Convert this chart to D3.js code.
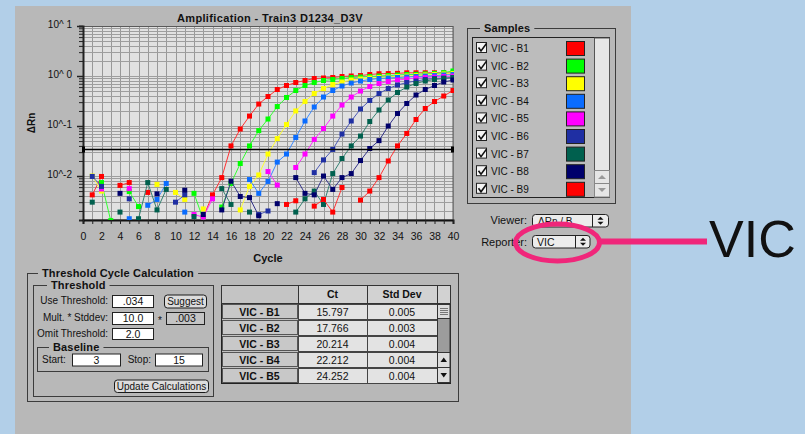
<!DOCTYPE html>
<html><head><meta charset="utf-8">
<script src="https://cdn.jsdelivr.net/npm/d3@7"></script>
<style>
body{margin:0;background:#b2cfe8;}
svg{display:block}
text{font-family:"Liberation Sans",Arial,sans-serif;fill:#111;}
</style></head>
<body><svg id="c" width="805" height="434"></svg>
<script>
// ---------------- DATA ----------------
const cycles = [1,2,3,4,5,6,7,8,9,10,11,12,13,14,15,16,17,18,19,20,21,22,23,24,25,26,27,28,29,30,31,32,33,34,35,36,37,38,39,40];
const sampleNames = ["VIC - B1","VIC - B2","VIC - B3","VIC - B4","VIC - B5","VIC - B6","VIC - B7","VIC - B8","VIC - B9"];
const sampleColors = ["#ff0000","#00ff00","#ffff00","#0a6cff","#ff00ff","#1f2fa3","#00604e","#00006b","#ff0000"];
const B1 = [0.0042,0.0098,null,0.0065,0.0074,null,0.0047,null,null,null,null,null,0.0015,0.0042,0.0093,0.040,0.087,0.158,0.275,0.389,0.537,0.646,0.741,0.813,0.891,0.912,0.933,0.977,1.00,1.02,1.07,1.11,1.12,1.13,1.16,1.16,1.16,1.16,1.15,1.15];
const B2 = [null,0.0074,0.00128,null,0.0049,0.00245,null,null,null,null,null,0.0045,0.00135,null,0.0024,0.0071,0.0178,0.040,0.081,0.138,0.245,0.372,0.513,0.646,0.741,0.813,0.851,0.891,0.933,0.955,0.977,1.00,1.02,1.05,1.07,1.08,1.10,1.12,1.17,1.26];
const B3 = [0.0100,0.0050,null,null,null,null,null,0.0068,null,0.0047,0.0034,null,0.0022,null,null,null,0.0021,0.0062,0.0105,0.0275,0.056,0.107,0.200,0.310,0.447,0.562,0.676,0.759,0.832,0.871,0.912,0.933,0.955,0.977,1.00,1.02,1.05,1.07,1.10,1.12];
const B4 = [null,null,null,null,0.0014,null,0.0026,0.0034,0.0071,null,0.0019,null,null,null,null,null,null,0.0085,0.0045,0.0078,0.019,0.0275,0.059,0.126,0.240,0.380,0.513,0.631,0.724,0.794,0.851,0.891,0.912,0.933,0.955,0.977,1.00,1.02,1.05,1.07];
const B5 = [null,0.0055,null,null,0.0056,null,null,null,null,null,null,0.0017,0.0015,0.0035,null,null,null,null,null,0.0123,0.0066,null,0.0148,0.0275,0.054,0.089,0.158,0.263,0.380,0.500,0.617,0.708,0.776,0.832,0.871,0.912,0.933,0.955,0.977,1.00];
const B6 = [0.0098,0.0062,null,null,0.0035,null,null,null,null,0.0030,0.0042,null,null,null,null,null,null,null,0.0017,0.0020,null,null,null,null,0.0117,0.021,0.034,0.069,0.126,0.219,0.324,0.447,0.562,0.661,0.741,0.794,0.851,0.891,0.912,0.933];
const B7 = [0.0030,null,null,0.0019,null,0.0014,0.0074,0.0021,0.0054,null,null,0.00155,null,null,0.0056,0.0027,null,0.0019,null,null,null,null,0.0019,0.0035,0.0050,0.0027,0.0112,0.0224,0.040,0.063,0.123,0.209,0.331,0.468,0.603,0.708,0.794,0.851,0.891,0.933];
const B8 = [null,null,null,0.0045,null,null,null,0.0044,null,null,0.0052,null,0.0017,null,0.0021,0.0079,0.0039,0.0037,0.0016,null,0.0028,null,0.0093,0.0045,0.0042,0.0100,0.0054,0.0093,0.0112,0.0204,0.0355,0.051,0.100,0.178,0.282,0.417,0.537,0.646,0.759,0.832];
const B9 = [null,null,null,null,null,null,null,null,null,null,null,null,null,null,null,null,null,null,null,null,null,0.0027,0.0032,null,0.0025,0.0034,0.0019,0.0059,null,0.0033,0.0050,0.0093,0.020,0.040,0.071,0.135,0.224,0.309,0.398,0.513];
const seriesValues = [B1,B2,B3,B4,B5,B6,B7,B8,B9];
const thresholdValue = 0.034;
const yTickValues = [10,1,0.1,0.01];
const yTickLabels = ["10^ 1","10^ 0","10^-1","10^-2"];
const xTickLabels = [0,2,4,6,8,10,12,14,16,18,20,22,24,26,28,30,32,34,36,38,40];
const tableRows = ["VIC - B1","VIC - B2","VIC - B3","VIC - B4","VIC - B5"];
const ctValues = ["15.797","17.766","20.214","22.212","24.252"];
const stdDevValues = ["0.005","0.003","0.004","0.004","0.004"];

// ---------------- DRAW ----------------
const svg = d3.select("#c");
svg.append("rect").attr("width",805).attr("height",434).attr("fill","#b2cfe8");
svg.append("rect").attr("x",15).attr("y",6).attr("width",616).attr("height",428).attr("fill","#b8b8b8");

const x = d3.scaleLinear().domain([0,40]).range([83,453]);
const y = d3.scaleLog().domain([0.00132,10]).range([220,26]);

// plot background
svg.append("rect").attr("x",83).attr("y",26).attr("width",370).attr("height",194).attr("fill","#e1e1e1");
// grid
const grid = svg.append("g");
d3.range(0,41).forEach(c=>{
  grid.append("line").attr("x1",Math.round(x(c))+0.5).attr("x2",Math.round(x(c))+0.5).attr("y1",26).attr("y2",220)
    .attr("stroke","#989898").attr("stroke-width",1);
});
const minorVals = [];
[-3,-2,-1,0].forEach(d=>{ for(let k=1;k<=9;k++){ const v=k*Math.pow(10,d); if(v>=0.00132 && v<=10) minorVals.push(v);} });
minorVals.push(10);
minorVals.forEach(v=>{
  grid.append("line").attr("x1",83).attr("x2",453).attr("y1",Math.round(y(v))+0.5).attr("y2",Math.round(y(v))+0.5)
    .attr("stroke","#9e9e9e").attr("stroke-width",1);
});
// plot frame
svg.append("rect").attr("x",83.5).attr("y",26.5).attr("width",369.5).attr("height",193.5).attr("fill","none").attr("stroke","#5a5a5a");

// Axes
const yMinor = d3.axisLeft(y).tickValues(minorVals).tickSize(4).tickFormat("");
const yAxG = svg.append("g").attr("transform","translate(83,0)").call(yMinor);
yAxG.select(".domain").attr("stroke","#222").attr("stroke-width",2);
yAxG.selectAll(".tick line").attr("stroke","#222");
yAxG.selectAll(".tick").filter(d=>yTickValues.includes(d)).select("line").attr("x2",-6).attr("stroke-width",1.5);
const yLab = d3.axisLeft(y).tickValues(yTickValues).tickSize(0).tickPadding(11).tickFormat((d,i)=>yTickLabels[i]);
const yLabG = svg.append("g").attr("transform","translate(83,0)").call(yLab);
yLabG.select(".domain").remove();
yLabG.selectAll("text").attr("font-size","10px").attr("font-family","Liberation Sans, Arial").attr("fill","#111").attr("dy","0.1em");

const xTicks = d3.axisBottom(x).tickValues(d3.range(0,41)).tickSize(4).tickFormat("");
const xAxG = svg.append("g").attr("transform","translate(0,220)").call(xTicks);
xAxG.select(".domain").attr("stroke","#111").attr("stroke-width",2);
xAxG.selectAll(".tick line").attr("stroke","#222");
const xLab = d3.axisBottom(x).tickValues(xTickLabels).tickSize(0).tickPadding(13).tickFormat(d3.format("d"));
const xLabG = svg.append("g").attr("transform","translate(0,220)").call(xLab);
xLabG.select(".domain").remove();
xLabG.selectAll("text").attr("font-size","10.5px").attr("font-family","Liberation Sans, Arial").attr("fill","#111");

// Titles
svg.append("text").attr("x",270).attr("y",22).attr("text-anchor","middle").attr("font-weight","bold")
  .attr("font-size","11px").attr("letter-spacing","0.35px").text("Amplification - Train3 D1234_D3V");
svg.append("text").attr("x",268).attr("y",262).attr("text-anchor","middle").attr("font-weight","bold")
  .attr("font-size","11px").text("Cycle");
svg.append("text").attr("transform","translate(35,123) rotate(-90)").attr("text-anchor","middle").attr("font-weight","bold")
  .attr("font-size","10px").text("ΔRn");

// Series
svg.append("clipPath").attr("id","pc").append("rect").attr("x",83).attr("y",26).attr("width",371).attr("height",194);
const plotG = svg.append("g").attr("clip-path","url(#pc)");
const line = d3.line().defined(d=>d.v!=null).x(d=>x(d.c)).y(d=>y(d.v));
seriesValues.forEach((vals,i)=>{
  const data = cycles.map((c,j)=>({c:c,v:vals[j]}));
  const col = sampleColors[i];
  plotG.append("path").datum(data).attr("d",line).attr("fill","none")
    .attr("stroke",d3.interpolateRgb(col,"#ffffff")(0.2)).attr("stroke-width",1);
  plotG.selectAll(null).data(data.filter(d=>d.v!=null)).enter().append("rect")
    .attr("x",d=>x(d.c)-2.5).attr("y",d=>y(d.v)-2.5).attr("width",5).attr("height",5).attr("fill",col);
});

// Threshold line
const ty = Math.round(y(thresholdValue))+0.5;
svg.append("line").attr("x1",83).attr("x2",453).attr("y1",ty).attr("y2",ty).attr("stroke","#000").attr("stroke-width",1.3);
svg.append("rect").attr("x",82).attr("y",ty-3).attr("width",3).attr("height",6).attr("fill","#000");
svg.append("rect").attr("x",451).attr("y",ty-3).attr("width",3).attr("height",6).attr("fill","#000");

// ---------- UI helpers ----------
function groupBox(gx,gy,w,h,title,tx){
  svg.append("rect").attr("x",gx+0.5).attr("y",gy+0.5).attr("width",w).attr("height",h).attr("fill","none").attr("stroke","#3c3c3c");
  const t = svg.append("text").attr("x",tx).attr("y",gy+4).attr("font-weight","bold").attr("font-size","11px").attr("letter-spacing","0.15px").text(title);
  const bb = t.node().getBBox();
  svg.insert("rect",function(){return t.node();}).attr("x",bb.x-4).attr("y",gy-2).attr("width",bb.width+8).attr("height",5).attr("fill","#b8b8b8");
}
function field(fx,fy,w,h,txt,fill){
  svg.append("rect").attr("x",fx+0.5).attr("y",fy+0.5).attr("width",w).attr("height",h).attr("fill",fill||"#ffffff").attr("stroke","#222");
  svg.append("text").attr("x",fx+w/2+0.5).attr("y",fy+h/2+4).attr("text-anchor","middle").attr("font-size","10.5px").text(txt);
}
function button(bx,by,w,h,txt){
  svg.append("rect").attr("x",bx+0.5).attr("y",by+0.5).attr("width",w).attr("height",h).attr("rx",3).attr("fill","#dcdcdc").attr("stroke","#1a1a1a");
  svg.append("text").attr("x",bx+w/2+0.5).attr("y",by+h/2+4).attr("text-anchor","middle").attr("font-size","10px").text(txt);
}
function label(lx,ly,txt,anchor,size){
  svg.append("text").attr("x",lx).attr("y",ly).attr("text-anchor",anchor||"start").attr("font-size",size||"10px").text(txt);
}
function upDown(cx,cy){
  svg.append("path").attr("d",`M${cx-3},${cy-1}L${cx+3},${cy-1}L${cx},${cy-4}Z`).attr("fill","#111");
  svg.append("path").attr("d",`M${cx-3},${cy+1}L${cx+3},${cy+1}L${cx},${cy+4}Z`).attr("fill","#111");
}

// ---------- Samples panel ----------
groupBox(467,28,148,175,"Samples",484);
svg.append("rect").attr("x",472.5).attr("y",37.5).attr("width",137).attr("height",160).attr("fill","#bcbcbc").attr("stroke","#222");
svg.append("rect").attr("x",594.5).attr("y",38).attr("width",15).attr("height",159).attr("fill","#e6e6e6").attr("stroke","#555");
svg.append("rect").attr("x",594.5).attr("y",170.5).attr("width",15).attr("height",13).attr("fill","#e6e6e6").attr("stroke","#888");
svg.append("rect").attr("x",594.5).attr("y",183.5).attr("width",15).attr("height",13.5).attr("fill","#e6e6e6").attr("stroke","#888");
svg.append("path").attr("d","M598,179L606,179L602,175Z").attr("fill","#999");
svg.append("path").attr("d","M598,188L606,188L602,192Z").attr("fill","#999");
sampleNames.forEach((n,i)=>{
  const ry = 41 + i*17.6;
  svg.append("rect").attr("x",476.5).attr("y",ry+1.5).attr("width",10).attr("height",10).attr("fill","#f4f4f4").attr("stroke","#222");
  svg.append("path").attr("d",`M478.5,${ry+6.5}L481,${ry+10}L486.5,${ry+2.5}`).attr("fill","none").attr("stroke","#111").attr("stroke-width",1.6);
  label(491, ry+11, n, "start", "10px");
  svg.append("rect").attr("x",566.5).attr("y",ry+0.5).attr("width",18).attr("height",14).attr("fill",sampleColors[i]).attr("stroke","#222");
});

// Viewer / Reporter
label(527,224,"Viewer:","end","11px");
svg.append("rect").attr("x",532.5).attr("y",214.5).attr("width",76).attr("height",12.5).attr("rx",3).attr("fill","#ececec").attr("stroke","#222");
svg.append("line").attr("x1",592.5).attr("x2",592.5).attr("y1",215).attr("y2",227).attr("stroke","#222");
label(538,224.5,"ΔRn / B","start","10px");
upDown(600.5,220.8);
label(527,246,"Reporter:","end","11px");
svg.append("rect").attr("x",532.5).attr("y",235.5).attr("width",57.5).attr("height",12.5).attr("rx",3).attr("fill","#ececec").attr("stroke","#222");
svg.append("line").attr("x1",575.5).attr("x2",575.5).attr("y1",236).attr("y2",248).attr("stroke","#222");
label(537,246,"VIC","start","10.5px");
upDown(583,241.8);

// Highlight ellipse + line + big label
svg.append("ellipse").attr("cx",557.5).attr("cy",242.5).attr("rx",42).attr("ry",18.5).attr("fill","none").attr("stroke","#f0267a").attr("stroke-width",5);
svg.append("line").attr("x1",599).attr("x2",707).attr("y1",241.5).attr("y2",241.5).attr("stroke","#f0267a").attr("stroke-width",6);
svg.append("text").attr("x",709).attr("y",257).attr("font-size","52px").attr("font-family","Liberation Sans, Arial").attr("fill","#000").text("VIC");

// ---------- Threshold Cycle Calculation ----------
groupBox(27,273,431,128,"Threshold Cycle Calculation",42);
groupBox(33,285,180,111,"Threshold",51);
label(108,304,"Use Threshold:","end");
field(112,295,41,12,".034");
button(164,294.5,42,13,"Suggest");
label(108,321,"Mult. * Stddev:","end");
field(112,312,41,12,"10.0");
label(158,324,"*");
field(166,312,38,12,".003","#c4c4c4");
label(108,337,"Omit Threshold:","end");
field(112,328,41,11,"2.0");
groupBox(37,347,171,24,"Baseline",53);
label(42,363,"Start:");
field(72,353.5,48,12,"3");
label(151,363,"Stop:","end");
field(155,353.5,47,12,"15");
button(114,379.5,94,12.5,"Update Calculations");

// ---------- Table ----------
const tx0=221, colX=[221,298,367,437,450], hTop=285, hBot=303, rowH=16;
svg.append("rect").attr("x",tx0+0.5).attr("y",hTop+0.5).attr("width",229).attr("height",98).attr("fill","#c0c0c0").attr("stroke","#222");
// header
[["",0],["Ct",1],["Std Dev",2],["",3]].forEach(([t,k])=>{
  svg.append("rect").attr("x",colX[k]+0.5).attr("y",hTop+0.5).attr("width",colX[k+1]-colX[k]).attr("height",hBot-hTop)
    .attr("fill",k===0?"#c4c4c4":"#d2d2d2").attr("stroke","#333");
  if(t) svg.append("text").attr("x",(colX[k]+colX[k+1])/2).attr("y",hTop+13).attr("text-anchor","middle")
    .attr("font-weight","bold").attr("font-size","10.5px").text(t);
});
tableRows.forEach((r,i)=>{
  const ry = hBot+1+i*rowH;
  svg.append("rect").attr("x",colX[0]+1.5).attr("y",ry+0.5).attr("width",colX[1]-colX[0]-2).attr("height",rowH-2).attr("fill","#c8c8c8").attr("stroke","#555");
  svg.append("text").attr("x",(colX[0]+colX[1])/2).attr("y",ry+11.5).attr("text-anchor","middle").attr("font-weight","bold").attr("font-size","10.5px").text(r);
  [ctValues[i],stdDevValues[i]].forEach((v,k)=>{
    svg.append("rect").attr("x",colX[k+1]+0.5).attr("y",ry+0.5).attr("width",colX[k+2]-colX[k+1]).attr("height",rowH-1).attr("fill","#e3e3e3").attr("stroke","#444");
    svg.append("text").attr("x",(colX[k+1]+colX[k+2])/2).attr("y",ry+11.5).attr("text-anchor","middle").attr("font-size","10.5px").text(v);
  });
});
// table scrollbar
svg.append("rect").attr("x",437.5).attr("y",304.5).attr("width",12.5).attr("height",78).attr("fill","#9c9c9c").attr("stroke","#333");
svg.append("rect").attr("x",437.5).attr("y",304.5).attr("width",12.5).attr("height",14).attr("fill","#dcdcdc").attr("stroke","#333");
[308.5,310.5,312.5,314.5].forEach(yy=>svg.append("line").attr("x1",440).attr("x2",448).attr("y1",yy).attr("y2",yy).attr("stroke","#777"));
svg.append("rect").attr("x",437.5).attr("y",352.5).attr("width",12.5).attr("height",15).attr("fill","#dcdcdc").attr("stroke","#333");
svg.append("rect").attr("x",437.5).attr("y",367.5).attr("width",12.5).attr("height",15).attr("fill","#dcdcdc").attr("stroke","#333");
svg.append("path").attr("d","M440.5,362L447,362L443.75,357.5Z").attr("fill","#111");
svg.append("path").attr("d","M440.5,373L447,373L443.75,377.5Z").attr("fill","#111");
</script></body></html>
